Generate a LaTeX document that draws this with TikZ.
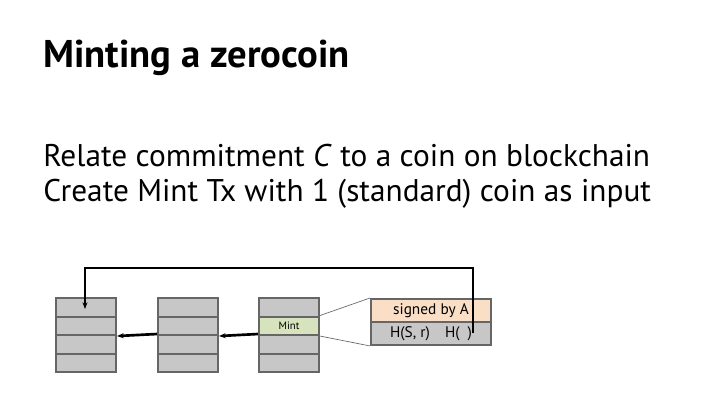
\documentclass[tikz,border=0pt]{standalone}
\usepackage{fontspec}
\setmainfont{PT Sans}
\usetikzlibrary{arrows.meta}
\begin{document}
\begin{tikzpicture}[x=0.75pt,y=-0.75pt,
  cell/.style={draw=black!60,line width=1.5pt,fill=black!22,minimum width=45pt,minimum height=13.9pt,inner sep=0pt,anchor=north west},
  arr/.style={line width=2pt,-{Stealth[length=5pt]}},
  thin/.style={draw=black!60,line width=0.5pt}]
\useasboundingbox (0,0) rectangle (720,405);
\node[anchor=base west,font=\bfseries\fontsize{29}{34}\selectfont,inner sep=0] (title) at (43,67) {Minting a zerocoin};
\node[anchor=base west,font=\fontsize{23.5}{28}\selectfont,inner sep=0] (l1) at (43,166) {Relate commitment \textit{C} to a coin on blockchain};
\node[anchor=base west,font=\fontsize{23.5}{28}\selectfont,inner sep=0] (l2) at (43,201) {Create Mint Tx with 1 (standard) coin as input};
\foreach \b/\x in {a/55,b/157,c/258}{
  \foreach \i in {0,1,2,3}{
    \node[cell] (\b\i) at (\x,{297+\i*18.5}) {};
  }
}
\node[cell,fill={rgb,255:red,214;green,227;blue,188},font=\fontsize{8}{9}\selectfont] (mint) at (258,{297+18.5}) {Mint};
\node[cell,minimum width=90pt,minimum height=17.2pt,fill={rgb,255:red,250;green,222;blue,198},font=\fontsize{11.5}{13}\selectfont] (sig) at (370,298) {signed by A};
\node[cell,minimum width=90pt,minimum height=17.2pt,font=\fontsize{11.5}{13}\selectfont] (hs) at (370,321) {H(S, r)\quad H(\phantom{x})};
\draw[thin] (mint.north east) -- (sig.north west);
\draw[thin] (mint.south east) -- (hs.south west);
\draw[arr] (c2.north west) -- (b1.south east);
\draw[arr] (b2.north west) -- (a1.south east);
\coordinate (src) at (473,333);
\draw[arr] (src) |- (85,268) -- (85,309);
\end{tikzpicture}
\end{document}
